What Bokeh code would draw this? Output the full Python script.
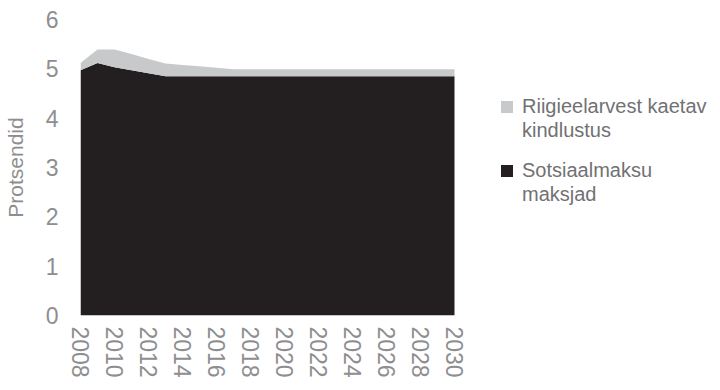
from bokeh.plotting import figure
from bokeh.models import ColumnDataSource, Legend, LegendItem, FixedTicker
from bokeh.embed import file_html
from bokeh.resources import INLINE

years = list(range(2008, 2031))
sotsiaalmaksu = [4.97, 5.12, 5.03, 4.97, 4.91, 4.85, 4.85, 4.85, 4.85, 4.85, 4.85, 4.85,
                 4.85, 4.85, 4.85, 4.85, 4.85, 4.85, 4.85, 4.85, 4.85, 4.85, 4.85]
riigieelarve = [0.15, 0.27, 0.36, 0.33, 0.29, 0.26, 0.23, 0.20, 0.17, 0.14, 0.14, 0.14,
                0.14, 0.14, 0.14, 0.14, 0.14, 0.14, 0.14, 0.14, 0.14, 0.14, 0.14]
label_riik = ["Riigieelarvest kaetav", "kindlustus"]
label_sots = ["Sotsiaalmaksu", "maksjad"]
colors = ["#231f20", "#c8c9cb"]
x_ticks = list(range(2008, 2031, 2))
y_ticks = [0, 1, 2, 3, 4, 5, 6]

W, H = 712, 382
LEFT, TOP, BOTTOM = 80, 19, 67
PLOT_W = 374  # pixel width of the data area (2008..2030)
frame_w = W - LEFT
x_end = years[0] + (years[-1] - years[0]) * frame_w / PLOT_W

src = ColumnDataSource(dict(year=years, s=sotsiaalmaksu, r=riigieelarve))

p = figure(width=W, height=H, output_backend="svg", toolbar_location=None,
           x_range=(years[0], x_end), y_range=(0, 6),
           min_border_left=LEFT, min_border_top=TOP, min_border_right=0, min_border_bottom=BOTTOM)
p.outline_line_color = None
p.grid.grid_line_color = None

rs = p.varea_stack(stackers=["s", "r"], x="year", color=colors, source=src)
blank = p.varea(x=[], y1=[], y2=[], fill_alpha=0)

FONT = "Liberation Sans"
TXT = "#8e8e90"

p.xaxis.ticker = FixedTicker(ticks=x_ticks)
p.yaxis.ticker = FixedTicker(ticks=y_ticks)
for ax in (p.xaxis[0], p.yaxis[0]):
    ax.axis_line_color = None
    ax.major_tick_line_color = None
    ax.minor_tick_line_color = None
    ax.major_tick_out = 0
    ax.major_tick_in = 0
    ax.minor_tick_out = 0
    ax.minor_tick_in = 0
    ax.major_label_text_font = FONT
    ax.major_label_text_color = TXT
    ax.major_label_text_font_size = "23px"
p.xaxis.major_label_orientation = "vertical"
p.xaxis.major_label_standoff = 11
p.yaxis.major_label_standoff = 22
p.yaxis.axis_label = "Protsendid"
p.yaxis.axis_label_text_font = FONT
p.yaxis.axis_label_text_font_size = "21px"
p.yaxis.axis_label_text_font_style = "normal"
p.yaxis.axis_label_text_color = TXT
p.yaxis.axis_label_standoff = 16

def make_legend(lbls, rend, loc):
    items = [LegendItem(label=lbls[0], renderers=[rend]),
             LegendItem(label=lbls[1], renderers=[blank])]
    return Legend(items=items, location=loc, orientation="vertical",
                  label_text_font=FONT, label_text_font_size="20px", label_text_color="#717173",
                  glyph_width=15, glyph_height=15, spacing=0, padding=0, margin=0,
                  label_height=24, border_line_color=None, background_fill_alpha=0,
                  label_standoff=8)

p.add_layout(make_legend(label_riik, rs[1], (419, 173)), "center")
p.add_layout(make_legend(label_sots, rs[0], (419, 109)), "center")

open("out.html", "w").write(file_html(p, INLINE))
